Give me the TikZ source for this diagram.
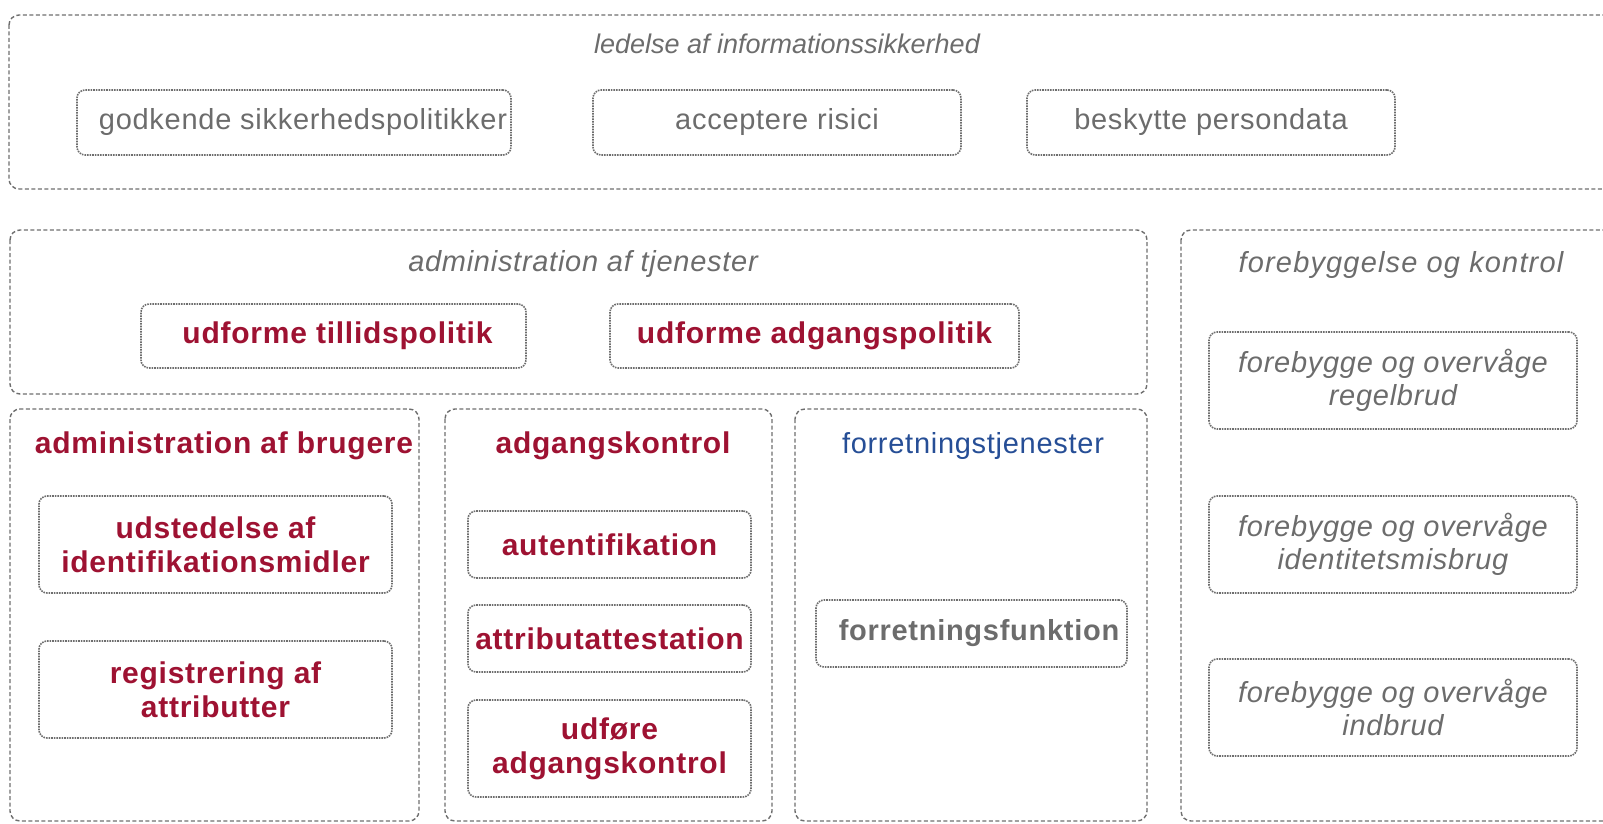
\documentclass[tikz,border=0pt]{standalone}
\usepackage{fontspec}
\setmainfont{Liberation Sans}
\newfontfamily\spaced[LetterSpace=2.5]{Liberation Sans}
\newfontfamily\spacedw[LetterSpace=4]{Liberation Sans}
\definecolor{dred}{RGB}{158,18,50}
\definecolor{tgray}{RGB}{108,108,108}
\definecolor{lgray}{RGB}{110,110,110}
\definecolor{fblue}{RGB}{38,78,150}
\tikzset{
  container/.style={draw=lgray, dash pattern=on 4pt off 2.5pt, line width=1.4pt, rounded corners=10pt},
  inbox/.style={draw=lgray, densely dotted, line width=1.6pt, rounded corners=8pt, inner sep=0pt, align=center},
  redtxt/.style={text=dred, font=\spaced\fontsize{30}{34}\selectfont\bfseries},
  graytxt/.style={text=tgray, font=\spaced\fontsize{29}{33}\selectfont},
  itxt/.style={text=tgray, font=\spaced\fontsize{29}{33}\selectfont\itshape},
  ttl/.style={inner sep=0pt, align=center}
}
\begin{document}
\begin{tikzpicture}[x=1pt,y=-1pt]
\useasboundingbox (0,0) rectangle (1603,824);
\clip (0,0) rectangle (1603,824);
% containers
\draw[container] (9,15) rectangle (1630,189);
\draw[container] (10,230) rectangle (1147,394);
\draw[container] (1181,230) rectangle (1630,821);
\draw[container] (10,409) rectangle (419,821);
\draw[container] (445,409) rectangle (772,821);
\draw[container] (795,409) rectangle (1147,821);

% top group
\node[ttl, text=tgray, font=\fontsize{27}{31}\selectfont\itshape] (tledelse) at (787,44) {ledelse af informationssikkerhed};
\node[inbox, graytxt, minimum width=434pt, minimum height=65pt] (godk) at (294,122.5) {\hspace*{18pt}godkende sikkerhedspolitikker};
\node[inbox, graytxt, minimum width=368pt, minimum height=65pt] (accr) at (777,122.5) {acceptere risici};
\node[inbox, graytxt, minimum width=368pt, minimum height=65pt] (besk) at (1211,122.5) {beskytte persondata};

% administration af tjenester
\node[ttl, itxt] (tadmtj) at (583,264) {administration af tjenester};
\node[inbox, redtxt, minimum width=385pt, minimum height=64pt] (tillid) at (333.5,336) {\hspace*{8pt}udforme tillidspolitik};
\node[inbox, redtxt, minimum width=409pt, minimum height=64pt] (adgpol) at (814.5,336) {udforme adgangspolitik};

% forebyggelse og kontrol
\node[ttl, itxt, font=\spacedw\fontsize{29}{33}\selectfont\itshape] (tfore) at (1401,265) {forebyggelse og kontrol};
\node[inbox, itxt, minimum width=368pt, minimum height=97pt] (regel) at (1393,380.5) {forebygge og overvåge\\regelbrud};
\node[inbox, itxt, minimum width=368pt, minimum height=97pt] (ident) at (1393,544.5) {forebygge og overvåge\\identitetsmisbrug};
\node[inbox, itxt, minimum width=368pt, minimum height=97pt] (indbr) at (1393,707.5) {forebygge og overvåge\\indbrud};

% administration af brugere
\node[ttl, redtxt] (tadmbr) at (224,446) {administration af brugere};
\node[inbox, redtxt, minimum width=353pt, minimum height=97pt] (udst) at (215.5,544.5) {udstedelse af\\identifikationsmidler};
\node[inbox, redtxt, minimum width=353pt, minimum height=97pt] (regi) at (215.5,689.5) {registrering af\\attributter};

% adgangskontrol
\node[ttl, redtxt] (tadgk) at (613,446) {adgangskontrol};
\node[inbox, redtxt, minimum width=283pt, minimum height=67pt] (auten) at (609.5,544.5) {autentifikation};
\node[inbox, redtxt, minimum width=283pt, minimum height=67pt] (attr) at (609.5,638.5) {\makebox[0pt]{attributattestation}};
\node[inbox, redtxt, minimum width=283pt, minimum height=97pt] (udfo) at (609.5,748.5) {udføre\\adgangskontrol};

% forretningstjenester
\node[ttl, text=fblue, font=\spaced\fontsize{29}{33}\selectfont] (tforr) at (973,446) {forretningstjenester};
\node[inbox, minimum width=311pt, minimum height=67pt] (ffunk) at (971.5,633.5) {};
\node[inner sep=0pt, text=tgray, font=\spaced\fontsize{29}{33}\selectfont\bfseries] (ffunkt) at (979,633.5) {forretningsfunktion};
\end{tikzpicture}
\end{document}
